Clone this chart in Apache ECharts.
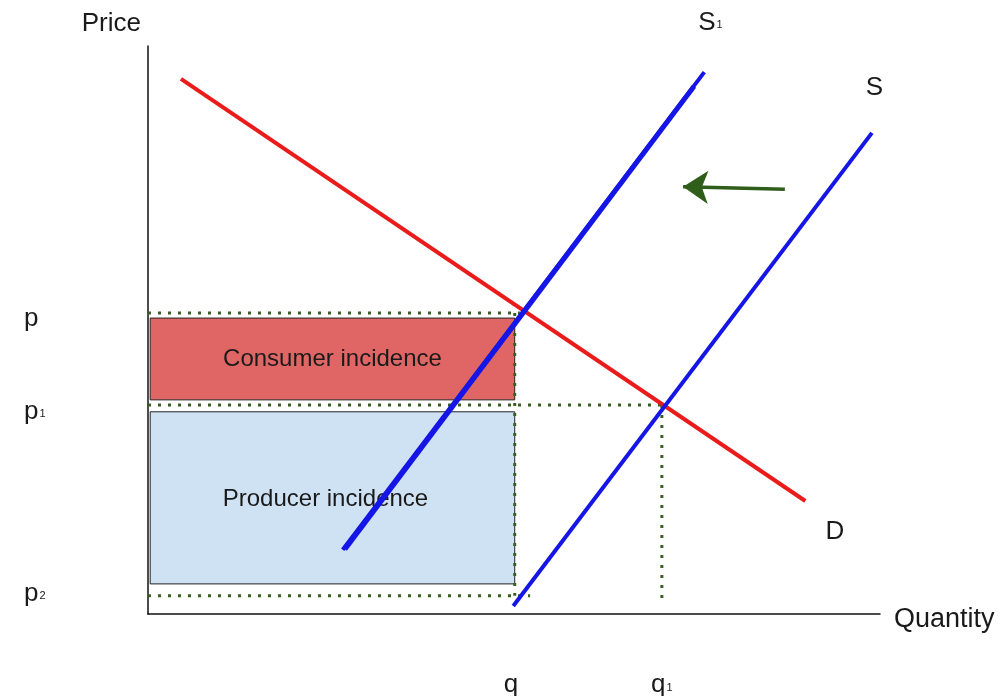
<!DOCTYPE html>
<html>
<head>
<meta charset="utf-8">
<script src="https://cdn.jsdelivr.net/npm/echarts@6/dist/echarts.min.js"></script>
<style>
  html, body { margin: 0; padding: 0; background: #fff; }
  #main { width: 1000px; height: 696px; }
</style>
</head>
<body>
<div id="main"></div>
<script>
// axis ticks: q, q1 on quantity, p, p1, p2 on price
var quantityTicks = [49.6, 70.2];
var quantityNames = ['q', 'q1'];
var priceTicks = [52, 35.6, 3.6];
var priceNames = ['p', 'p1', 'p2'];

// curves (quantity, price)
var demand = [[4.5, 94.2], [89.8, 19.9]];
var supply1 = [[26.6, 11.3], [76.0, 95.4]];
var supply1Edge = [[26.9, 11.4], [74.6, 92.9]];
var supply = [[49.9, 1.4], [98.9, 84.7]];
var shiftArrow = [[87.0, 74.8], [73.1, 75.2]];

// dotted guide lines
var pGuide = [[0, 53], [50.8, 53]];
var p1Guide = [[0, 36.8], [70.6, 36.8]];
var p2Guide = [[0, 3.2], [52.2, 3.2]];
var qGuide = [[50.1, 53], [50.1, 3.2]];
var q1Guide = [[70.2, 36.8], [70.2, 1.9]];

// incidence boxes [x0, y0, x1, y1]
var consumerBox = [0.3, 52.1, 50.1, 37.7];
var producerBox = [0.3, 35.6, 50.1, 5.3];

// curve names
var curveNames = ['S1', 'S', 'D'];
var curveNamePos = [[76.9, 104.0], [99.3, 92.6], [93.9, 14.4]];

var textColor = '#1a1a1a';
var guideColor = '#3a5f22';

var rich = {
    b: { fontSize: 26, color: textColor, fontFamily: 'Liberation Sans', textBorderWidth: 0 },
    s: { fontSize: 11, color: textColor, fontFamily: 'Liberation Sans', verticalAlign: 'bottom',
         padding: [0, 0, 5, 1], textBorderWidth: 0 }
};
function subLabel(name) {
    if (name.length > 1) return '{b|' + name[0] + '}{s|' + name.slice(1) + '}';
    return '{b|' + name + '}';
}

function guideSeries(data) {
    return {
        type: 'line',
        data: data,
        symbol: 'none',
        silent: true,
        z: 3,
        lineStyle: { color: guideColor, width: 3, type: [3, 7], cap: 'butt' }
    };
}
function curveSeries(data, color, width) {
    return {
        type: 'line',
        data: data,
        symbol: 'none',
        silent: true,
        z: 5,
        lineStyle: { color: color, width: width }
    };
}

var chartDom = document.getElementById('main');
var myChart = echarts.init(chartDom);
var option;
option = {
    animation: false,
    backgroundColor: '#fff',
    textStyle: { fontFamily: 'Liberation Sans' },
    grid: {
        left: 148,
        top: 46,
        right: 120,
        bottom: 82,
        outerBoundsMode: 'none'
    },
    xAxis: {
        type: 'value',
        min: 0,
        max: 100,
        name: 'Quantity',
        nameLocation: 'end',
        nameGap: 14,
        nameTextStyle: { fontSize: 27, color: textColor, verticalAlign: 'top', lineHeight: 12 },
        axisLine: { show: true, lineStyle: { color: '#111', width: 1.5 } },
        axisTick: { show: false },
        splitLine: { show: false },
        axisLabel: {
            customValues: quantityTicks,
            margin: 58,
            formatter: function (v) {
                return subLabel(quantityNames[quantityTicks.indexOf(v)] || '');
            },
            rich: rich
        }
    },
    yAxis: {
        type: 'value',
        min: 0,
        max: 100,
        name: 'Price',
        nameLocation: 'end',
        nameGap: 9,
        nameTextStyle: { fontSize: 26, color: textColor, align: 'right', padding: [0, 7, 0, 0] },
        axisLine: { show: true, lineStyle: { color: '#111', width: 1.5 } },
        axisTick: { show: false },
        splitLine: { show: false },
        axisLabel: {
            customValues: priceTicks,
            margin: 124,
            align: 'left',
            formatter: function (v) {
                return subLabel(priceNames[priceTicks.indexOf(v)] || '');
            },
            rich: rich
        }
    },
    series: [
        {
            // incidence boxes
            type: 'line',
            data: [],
            symbol: 'none',
            z: 1,
            markArea: {
                silent: true,
                label: {
                    show: true,
                    position: 'inside',
                    fontSize: 24,
                    color: textColor
                },
                data: [
                    [
                        { name: 'Consumer incidence', coord: [consumerBox[0], consumerBox[1]],
                          itemStyle: { color: '#e06666', borderColor: '#222', borderWidth: 1 } },
                        { coord: [consumerBox[2], consumerBox[3]] }
                    ],
                    [
                        { name: 'Producer incidence', coord: [producerBox[0], producerBox[1]],
                          itemStyle: { color: '#cfe2f3', borderColor: '#222', borderWidth: 1 },
                          label: { offset: [-7, 2] } },
                        { coord: [producerBox[2], producerBox[3]] }
                    ]
                ]
            }
        },
        guideSeries(pGuide),
        guideSeries(p1Guide),
        guideSeries(p2Guide),
        guideSeries(qGuide),
        guideSeries(q1Guide),
        curveSeries(demand, '#ea1b1b', 4),
        curveSeries(supply1, '#1515e6', 4),
        curveSeries(supply1Edge, '#1515e6', 5),
        curveSeries(supply, '#1515e6', 4),
        {
            // shift arrow
            type: 'lines',
            coordinateSystem: 'cartesian2d',
            silent: true,
            z: 6,
            symbol: ['none', 'arrow'],
            symbolSize: [17, 25],
            lineStyle: { color: '#2f5d1a', width: 3.5, opacity: 1 },
            data: [{ coords: shiftArrow }]
        },
        {
            // curve names
            type: 'scatter',
            clip: false,
            silent: true,
            symbolSize: 1,
            itemStyle: { color: 'rgba(0,0,0,0)', opacity: 1 },
            data: curveNamePos.map(function (pos, i) {
                return { name: curveNames[i], value: pos };
            }),
            label: {
                show: true,
                position: [0, 0],
                align: 'center',
                verticalAlign: 'middle',
                opacity: 1,
                color: textColor,
                textBorderWidth: 0,
                formatter: function (p) { return subLabel(p.name); },
                rich: rich
            }
        }
    ]
};
option && myChart.setOption(option);
</script>
</body>
</html>
